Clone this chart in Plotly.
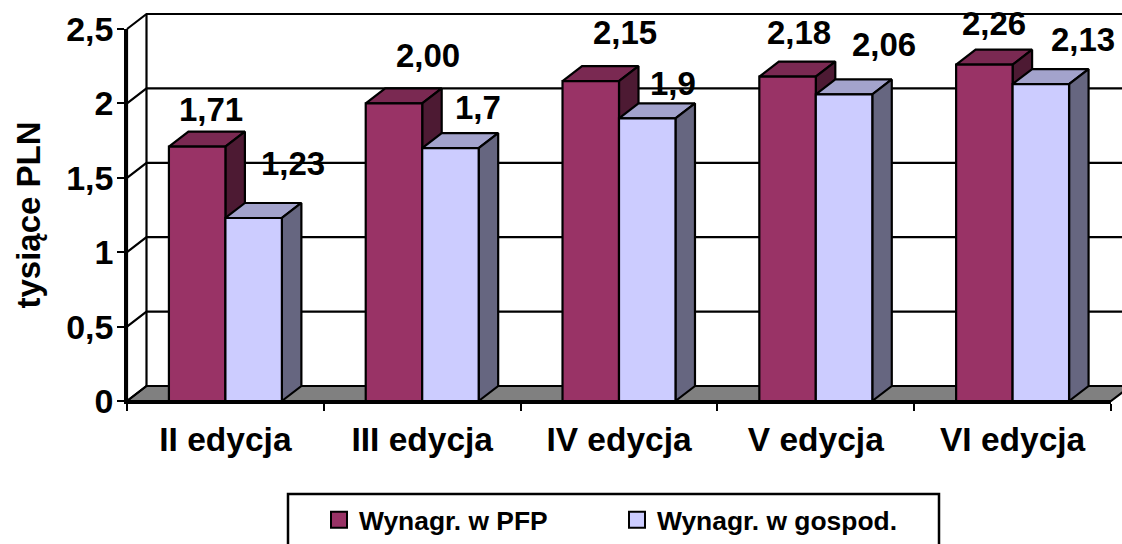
import plotly.graph_objects as go

categories = ["II edycja", "III edycja", "IV edycja", "V edycja", "VI edycja"]
pfp = [1.71, 2.00, 2.15, 2.18, 2.26]
gospod = [1.23, 1.70, 1.90, 2.06, 2.13]
pfp_labels = ["1,71", "2,00", "2,15", "2,18", "2,26"]
gospod_labels = ["1,23", "1,7", "1,9", "2,06", "2,13"]
y_ticks = [0, 0.5, 1, 1.5, 2, 2.5]
y_tick_text = ["0", "0,5", "1", "1,5", "2", "2,5"]
series_names = ["Wynagr. w PFP", "Wynagr. w gospod."]

# label offsets in pixels, relative to the front-top centre of each bar
pfp_offsets = [(14, 37), (34, 48), (34, 49), (11, 44), (10, 41)]
gospod_offsets = [(39, 54), (28, 41), (26, 35), (40, 50), (42, 45)]

W, H = 1122, 544
X0, X1, Y0, Y1 = 127, 1111, 401, 29
PX = (X1 - X0) / 5      # pixels per category
PY = (Y0 - Y1) / 2.5    # pixels per unit
DX = 19.5 / PX
DY = 15 / PY
BAR = 0.287
GAP = 0.213
LW = 2.2
FONT = "Liberation Sans"

pfp_cols = ("#993366", "#7A2952", "#4D1A33")
gos_cols = ("#CCCCFF", "#A3A3CC", "#666680")

fig = go.Figure()


def poly(xs, ys, fill):
    fig.add_trace(go.Scatter(x=xs, y=ys, xaxis="x2", yaxis="y2", mode="lines", fill="toself",
                             fillcolor=fill, line=dict(color="black", width=LW), showlegend=False,
                             hoverinfo="skip", cliponaxis=False))


# floor
poly([0, DX, 5 + DX, 5, 0], [0, DY, DY, 0, 0], "#808080")

# back wall grid, left wall diagonals, wall edges
gx, gy = [], []
for v in y_ticks:
    gx += [0, DX, 5 + DX, None]
    gy += [v, v + DY, v + DY, None]
gx += [DX, DX, None, 0, 0]
gy += [DY, 2.5 + DY, None, 0, 2.5]
fig.add_trace(go.Scatter(x=gx, y=gy, xaxis="x2", yaxis="y2", mode="lines",
                         line=dict(color="black", width=LW),
                         showlegend=False, hoverinfo="skip", cliponaxis=False))


def bar3d(left, v, cols):
    r = left + BAR
    poly([left, left + DX, r + DX, r, left], [v, v + DY, v + DY, v, v], cols[1])
    poly([r, r + DX, r + DX, r, r], [0, DY, v + DY, v, 0], cols[2])
    poly([left, r, r, left, left], [0, 0, v, v, 0], cols[0])


for i in range(len(categories)):
    bar3d(i + GAP, pfp[i], pfp_cols)
    bar3d(i + GAP + BAR, gospod[i], gos_cols)

# legend entries
for name, col in zip(series_names, (pfp_cols[0], gos_cols[0])):
    fig.add_trace(go.Scatter(x=[None], y=[None], mode="markers", name=name,
                             marker=dict(symbol="square", size=18, color=col,
                                         line=dict(color="black", width=2))))

annotations = []
for i in range(len(categories)):
    for xc, v, txt, off in ((i + GAP + BAR / 2, pfp[i], pfp_labels[i], pfp_offsets[i]),
                            (i + GAP + BAR * 1.5, gospod[i], gospod_labels[i], gospod_offsets[i])):
        annotations.append(dict(x=xc, y=v, xref="x2", yref="y2", text=f"<b>{txt}</b>", showarrow=False,
                                xshift=off[0], yshift=off[1], xanchor="center", yanchor="middle",
                                font=dict(family=FONT, size=33, color="black")))

fig.update_layout(
    width=W, height=H, autosize=False,
    margin=dict(l=0, r=0, t=0, b=0, autoexpand=False),
    paper_bgcolor="white", plot_bgcolor="rgba(0,0,0,0)",
    font=dict(family=FONT, color="black"),
    annotations=annotations,
    xaxis=dict(domain=[X0 / W, X1 / W], range=[0, 5], tickmode="array",
               tickvals=[i + 0.5 for i in range(5)], ticktext=[f"<b>{c}</b>" for c in categories],
               ticks="", showgrid=False, zeroline=False, showline=True, linecolor="black",
               linewidth=2.5, tickfont=dict(family=FONT, size=33.5, color="black"),
               ticklabelstandoff=7,
               minor=dict(tickmode="array", tickvals=[0, 1, 2, 3, 4, 5], ticks="outside",
                          ticklen=7, tickwidth=2, tickcolor="black", showgrid=False)),
    yaxis=dict(domain=[(H - Y0) / H, (H - Y1) / H], range=[0, 2.5], tickmode="array",
               tickvals=y_ticks, ticktext=[f"<b>{t}</b>" for t in y_tick_text], ticks="outside",
               ticklen=7, tickwidth=2, tickcolor="black", showgrid=False, zeroline=False,
               showline=True, linecolor="black", linewidth=2.5,
               tickfont=dict(family=FONT, size=34, color="black"), ticklabelstandoff=-3,
               title=dict(text="<b>tysiące PLN</b>", font=dict(family=FONT, size=33, color="black"),
                          standoff=16)),
    # full-page overlay axes that share the same scale, so the depth of the 3D look is not cropped
    xaxis2=dict(domain=[0, 1], range=[-X0 / PX, (W - X0) / PX], visible=False, anchor="y2", fixedrange=True),
    yaxis2=dict(domain=[0, 1], range=[-(H - Y0) / PY, Y0 / PY], visible=False, anchor="x2", fixedrange=True),
    legend=dict(orientation="h", x=319 / W, y=1 - 496 / H, xanchor="left", yanchor="top",
                bgcolor="rgba(0,0,0,0)", borderwidth=0, entrywidth=253, entrywidthmode="pixels",
                itemclick=False, itemdoubleclick=False,
                font=dict(family=FONT, size=26.4, color="black", weight="bold")),
    shapes=[dict(type="rect", xref="paper", yref="paper", x0=288 / W, x1=939 / W,
                 y0=-0.1, y1=1 - 494 / H, line=dict(color="black", width=2.5),
                 fillcolor="white", layer="below")],
    showlegend=True,
)

fig.write_html("out.html", config={"displayModeBar": False},
               post_script="document.body.style.margin='0';document.body.style.overflow='hidden';")
